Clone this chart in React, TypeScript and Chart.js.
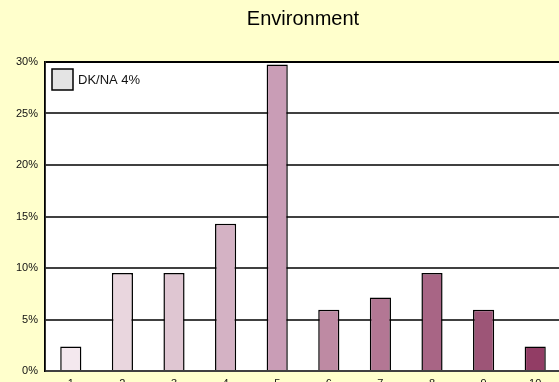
import { useEffect, useRef } from "react";
import { Chart, registerables } from "chart.js";

Chart.register(...registerables);

// Survey answers on a 1–10 scale, share of respondents (%)
const categories = ["1", "2", "3", "4", "5", "6", "7", "8", "9", "10"];
const shares = [2.38, 9.52, 9.52, 14.29, 29.76, 5.95, 7.14, 9.52, 5.95, 2.38];
const barColors = [
  "#f4e8ee",
  "#e9d6de",
  "#dfc6d2",
  "#d4b2c4",
  "#c99db6",
  "#be8aa3",
  "#b37794",
  "#a86585",
  "#9d5577",
  "#923d65",
];
const titleText = "Environment";
const noAnswerLabel = "DK/NA 4%";
const yMax = 30;
const yStep = 5;

const FONT = "Arial, 'Liberation Sans', sans-serif";

// White plot area on the pale yellow page
const plotBackground = {
  id: "plotBackground",
  beforeDraw(chart: any) {
    const { ctx, chartArea } = chart;
    ctx.save();
    ctx.fillStyle = "#ffffff";
    ctx.fillRect(chartArea.left, chartArea.top, chartArea.right - chartArea.left, chartArea.bottom - chartArea.top);
    ctx.restore();
  },
};

// Boxed note for the "don't know / no answer" share, top-left inside the plot
const noAnswerNote = {
  id: "noAnswerNote",
  afterDraw(chart: any) {
    const { ctx, chartArea } = chart;
    const x = chartArea.left + 7;
    const y = chartArea.top + 7;
    const size = 21;
    ctx.save();
    ctx.fillStyle = "#e4e4e4";
    ctx.fillRect(x, y, size, size);
    ctx.strokeStyle = "#000000";
    ctx.lineWidth = 1.5;
    ctx.strokeRect(x, y, size, size);
    ctx.fillStyle = "#111111";
    ctx.font = `13px ${FONT}`;
    ctx.textBaseline = "middle";
    ctx.textAlign = "left";
    ctx.fillText(noAnswerLabel, x + size + 5, y + size / 2 + 0.5);
    ctx.restore();
  },
};

export default function App() {
  const canvasRef = useRef<HTMLCanvasElement | null>(null);

  useEffect(() => {
    document.body.style.margin = "0";
    document.body.style.overflow = "hidden";
    const canvas = canvasRef.current;
    if (!canvas) return;
    const chart = new Chart(canvas, {
      type: "bar",
      data: {
        labels: categories,
        datasets: [
          {
            data: shares,
            backgroundColor: barColors,
            borderColor: "#000000",
            borderWidth: 1.5,
            categoryPercentage: 1,
            barPercentage: 0.41,
          },
        ],
      },
      options: {
        responsive: false,
        animation: false,
        devicePixelRatio: 1,
        layout: { padding: 0 },
        plugins: {
          legend: { display: false },
          tooltip: { enabled: false },
          title: {
            display: true,
            text: titleText,
            fullSize: false,
            color: "#000000",
            font: { family: FONT, size: 20, weight: "normal", lineHeight: 1.2 },
            padding: { top: 7, bottom: 31 },
          },
        },
        scales: {
          x: {
            grid: { display: false },
            border: { display: false },
            ticks: {
              color: "#111111",
              font: { family: FONT, size: 11 },
              padding: -2,
              maxRotation: 0,
              autoSkip: false,
            },
            afterFit(scale: any) {
              scale.height = 29;
            },
          },
          y: {
            min: 0,
            max: yMax,
            grid: {
              color: (c: any) => (c.tick && c.tick.value === yMax ? "#000000" : "#404040"),
              lineWidth: 2,
              drawTicks: false,
            },
            border: { display: true, color: "#000000", width: 1.8 },
            ticks: {
              stepSize: yStep,
              color: "#111111",
              font: { family: FONT, size: 11 },
              padding: 7,
              callback: (v: any) => `${v}%`,
            },
            afterFit(scale: any) {
              scale.width = 45;
            },
          },
        },
      },
      plugins: [plotBackground, noAnswerNote],
    });
    return () => chart.destroy();
  }, []);

  return (
    <div
      style={{
        position: "fixed",
        left: 0,
        top: 0,
        width: 559,
        height: 382,
        overflow: "hidden",
        background: "#ffffcc",
      }}
    >
      <canvas ref={canvasRef} width={561} height={400} style={{ display: "block", width: 561, height: 400 }} />
    </div>
  );
}
